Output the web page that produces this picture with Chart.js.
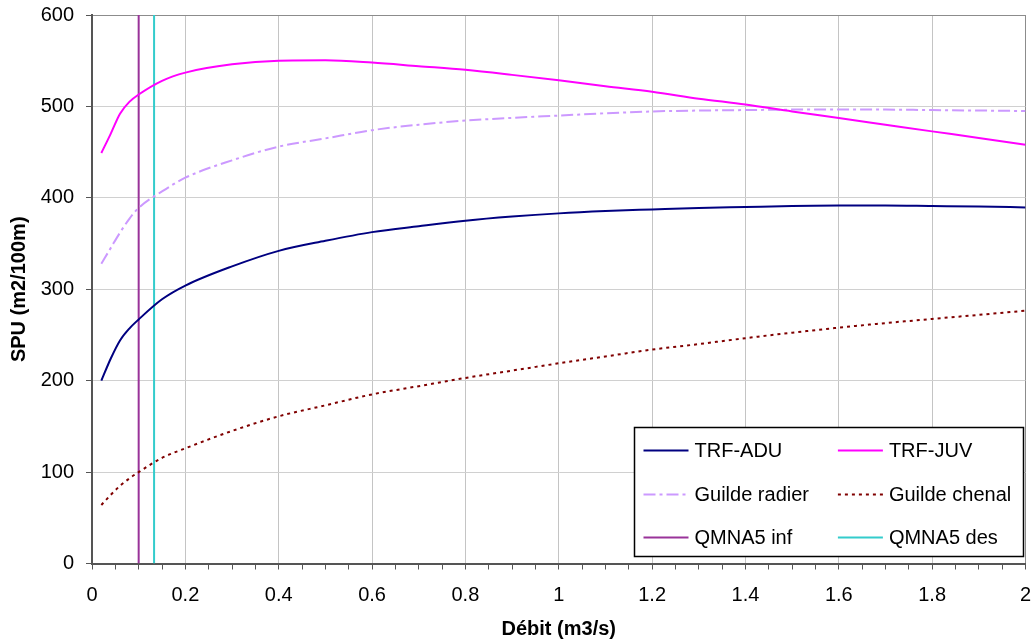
<!DOCTYPE html>
<html>
<head>
<meta charset="utf-8">
<script src="https://cdn.jsdelivr.net/npm/chart.js@4.4.1/dist/chart.umd.min.js"></script>
<style>
  html, body { margin: 0; padding: 0; background: #fff; }
  canvas { display: block; }
</style>
</head>
<body>
<canvas id="spu" width="1033" height="643"></canvas>
<script>
// Débit (m3/s) sampled for each habitat curve
const debit = [0.02, 0.04, 0.06, 0.08, 0.1, 0.15, 0.2, 0.3, 0.4, 0.5, 0.6, 0.7, 0.8, 0.9, 1.0, 1.1, 1.2, 1.3, 1.4, 1.5, 1.6, 1.7, 1.8, 1.9, 2.0];

// SPU (m2/100m) per species / guild
const trfAdu       = [200, 224, 244, 257, 267, 289, 304, 325, 342, 353, 362.5, 369, 375, 379.5, 383, 385.5, 387.3, 389, 390, 391, 391.5, 391.5, 391, 390.5, 389.5];
const trfJuv       = [449, 470, 492, 505, 513, 528, 537, 546, 550, 550.5, 548, 544, 540, 534.5, 528.5, 522, 516, 508.5, 502, 494.5, 487.3, 480, 472.7, 465.5, 458];
const guildeRadier = [328, 345, 362, 377, 389, 407, 422, 441, 456, 465, 474, 480, 484.5, 487.5, 490, 492.5, 494.5, 495.5, 496, 496.5, 496.5, 496.5, 496, 495.5, 495];
const guildeChenal = [64, 75, 85, 93, 100, 115.5, 126, 145, 161, 173, 185, 194, 203, 211, 219, 226.5, 234, 240, 246.5, 252.5, 258, 263, 267.5, 272, 276.5];

// Low-flow reference discharges (m3/s)
const qmna5Inf = 0.1;
const qmna5Des = 0.133;

// Axis ranges
const xRange = [0, 2];
const yRange = [0, 600];

const FONT = '"Liberation Sans", Arial, Helvetica, sans-serif';
Chart.defaults.font.family = FONT;
Chart.defaults.color = '#000';

const pts = (ys) => debit.map((x, i) => ({ x: x, y: ys[i] }));
const vline = (x) => [{ x: x, y: yRange[0] }, { x: x, y: yRange[1] }];

const isMajor = (v) => Math.abs(v * 5 - Math.round(v * 5)) < 1e-6;

// Boxed two-column legend drawn inside the plot area
const legendBox = {
  id: 'legendBox',
  afterDatasetsDraw(chart) {
    const { ctx, chartArea } = chart;
    const w = 389, h = 129;
    const x0 = chartArea.right - 2 - w;
    const y0 = chartArea.bottom - 7 - h;
    ctx.save();
    ctx.fillStyle = '#fff';
    ctx.fillRect(x0, y0, w, h);
    ctx.strokeStyle = '#000';
    ctx.lineWidth = 1.5;
    ctx.strokeRect(x0, y0, w, h);
    ctx.font = '20px ' + FONT;
    ctx.textBaseline = 'middle';
    chart.data.datasets.forEach((ds, i) => {
      const col = i % 2, row = Math.floor(i / 2);
      const lx = x0 + 9 + col * 194.4;
      const ly = Math.round(y0 + 22.7 + row * 43.3) + 0.5;
      ctx.beginPath();
      ctx.setLineDash(ds.borderDash || []);
      ctx.strokeStyle = ds.borderColor;
      ctx.lineWidth = ds.borderWidth;
      ctx.moveTo(lx, ly);
      ctx.lineTo(lx + 45, ly);
      ctx.stroke();
      ctx.setLineDash([]);
      ctx.fillStyle = '#000';
      ctx.fillText(ds.label, lx + 51, ly + 1);
    });
    ctx.restore();
  }
};

// Fixed plot frame: axes keep their own size, no extra edge padding for labels
const fixX = (scale) => { scale.height = 79.5; scale.paddingLeft = 0; scale.paddingRight = 0; };
const fixY = (scale) => { scale.width = 92; scale.paddingTop = 0; scale.paddingBottom = 0; };

new Chart(document.getElementById('spu'), {
  type: 'line',
  data: {
    datasets: [
      { label: 'TRF-ADU', data: pts(trfAdu), borderColor: '#000080', borderWidth: 2 },
      { label: 'TRF-JUV', data: pts(trfJuv), borderColor: '#ff00ff', borderWidth: 2 },
      { label: 'Guilde radier', data: pts(guildeRadier), borderColor: '#cc99ff', borderWidth: 2, borderDash: [12, 4, 3, 4] },
      { label: 'Guilde chenal', data: pts(guildeChenal), borderColor: '#800000', borderWidth: 2, borderDash: [3, 4] },
      { label: 'QMNA5 inf', data: vline(qmna5Inf), borderColor: '#993399', borderWidth: 2, cubicInterpolationMode: 'default', tension: 0 },
      { label: 'QMNA5 des', data: vline(qmna5Des), borderColor: '#33cccc', borderWidth: 2, cubicInterpolationMode: 'default', tension: 0 }
    ]
  },
  options: {
    responsive: false,
    animation: false,
    layout: { padding: { top: 15, right: 7.5, left: 0, bottom: 0 } },
    elements: {
      point: { radius: 0, hoverRadius: 0 },
      line: { cubicInterpolationMode: 'monotone', fill: false }
    },
    plugins: {
      legend: { display: false },
      tooltip: { enabled: false }
    },
    scales: {
      x: {
        type: 'linear',
        min: xRange[0],
        max: xRange[1],
        afterFit: fixX,
        ticks: {
          stepSize: 0.05,
          autoSkip: false,
          maxRotation: 0,
          padding: 14,
          color: '#000',
          font: { size: 20 },
          callback: (v) => isMajor(v) ? String(Number(v.toFixed(1))) : ''
        },
        grid: {
          color: (c) => {
            const v = c.tick ? c.tick.value : 0;
            if (Math.abs(v - xRange[1]) < 1e-6) return '#8c8c8c';
            return isMajor(v) ? '#c4c4c4' : 'rgba(0,0,0,0)';
          },
          tickColor: '#555',
          tickLength: 6,
          lineWidth: 1
        },
        border: { color: '#555', width: 2 },
        title: {
          display: true,
          text: 'Débit (m3/s)',
          color: '#000',
          font: { size: 20, weight: 'bold' },
          padding: { top: 0, bottom: 2 }
        }
      },
      y: {
        min: yRange[0],
        max: yRange[1],
        afterFit: fixY,
        ticks: {
          stepSize: 100,
          padding: 12,
          color: '#000',
          font: { size: 20 }
        },
        grid: {
          color: (c) => {
            const v = c.tick ? c.tick.value : 0;
            return v === yRange[1] ? '#8c8c8c' : '#d0d0d0';
          },
          tickColor: '#555',
          tickLength: 6,
          lineWidth: 1
        },
        border: { color: '#555', width: 2 },
        title: {
          display: true,
          text: 'SPU (m2/100m)',
          color: '#000',
          font: { size: 20, weight: 'bold' },
          padding: { top: 7, bottom: 0 }
        }
      }
    }
  },
  plugins: [legendBox]
});
</script>
</body>
</html>
